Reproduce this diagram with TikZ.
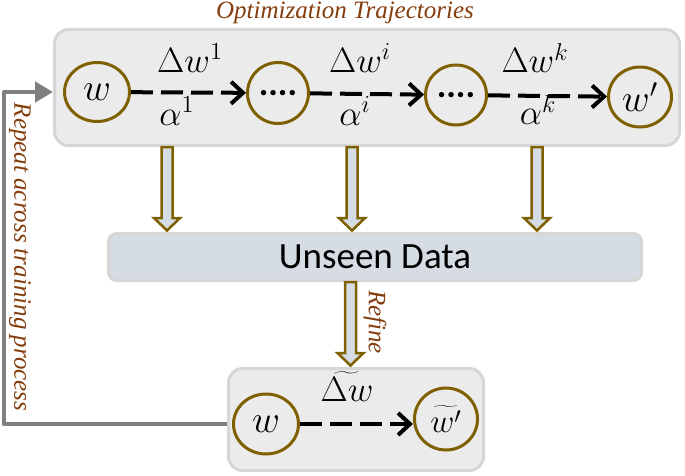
\documentclass[tikz,border=0pt]{standalone}
\usepackage{fontspec}
\setmainfont{Liberation Serif}
\newfontfamily\calibri{Carlito}
\usetikzlibrary{arrows.meta,calc,shapes.geometric}
\definecolor{gold}{HTML}{7F6000}
\definecolor{rust}{HTML}{843C0C}
\definecolor{panel}{HTML}{EBEBEB}
\definecolor{panelline}{HTML}{D6D6D6}
\definecolor{bluegray}{HTML}{D6DCE4}
\definecolor{loopgray}{HTML}{7F7F7F}
% math set large (the math fonts stop at \huge, so scale them)
\newcommand\circtext[1]{\scalebox{1.85}{\huge$#1$}}
\newcommand\steptext[1]{\scalebox{1.7}{\huge$#1$}}
% hollow down arrow: #1 top of shaft, #2 point the tip rests on
\newcommand\hollowdown[2]{%
	\draw[hollow] let \p1=#1, \p2=#2 in
	(\x1-5.5pt,\y1) -- (\x1+5.5pt,\y1) -- (\x1+5.5pt,\y2+14pt) -- (\x1+13pt,\y2+14pt)
	-- (\x1,\y2+1.5pt) -- (\x1-13pt,\y2+14pt) -- (\x1-5.5pt,\y2+14pt) -- cycle;}
\begin{document}
\begin{tikzpicture}[x=1pt,y=1pt,line join=round,
	panelbox/.style={draw=panelline,fill=panel,line width=3pt,rounded corners=14pt},
	state/.style={ellipse,draw=gold,fill=panel,line width=3pt,inner sep=0pt},
	move/.style={line width=4pt,dash pattern=on 22pt off 8pt,-{Straight Barb[length=12pt,width=22pt]}},
	hollow/.style={draw=gold,fill=bluegray,line width=2.5pt,line join=miter},
	note/.style={text=rust,font=\itshape\fontsize{25}{25}\selectfont,inner sep=0pt},
	lbl/.style={inner sep=0pt},
	loop/.style={draw=loopgray,line width=4.5pt,-{Triangle[length=18pt,width=20pt]}}]
	\useasboundingbox (0,0) rectangle (685,475);
	% optimization trajectories
	\node[panelbox,minimum width=625pt,minimum height=116pt] (top) at (367,387.5) {};
	\node[note] (title) at (345,462) {Optimization Trajectories};
	\node[state,minimum width=65pt,minimum height=59pt] (w0) at (97,383) {\circtext{w}};
	\node[state,minimum width=61pt,minimum height=61pt] (s1) at (278,382) {\calibri\bfseries\fontsize{36}{36}\selectfont ....};
	\node[state,minimum width=61pt,minimum height=60pt] (s2) at (456,380) {\calibri\bfseries\fontsize{36}{36}\selectfont ....};
	\node[state,minimum width=63pt,minimum height=60pt] (w1) at (640,378) {\circtext{w'}};
	\draw[move] (w0) -- (s1);
	\draw[move] (s1) -- (s2);
	\draw[move] (s2) -- (w1);
	\node[lbl] (d1) at (190,417) {\steptext{\Delta w^1}};
	\node[lbl] (a1) at (177,364) {\steptext{\alpha^1}};
	\node[lbl] (di) at (360,417) {\steptext{\Delta w^i}};
	\node[lbl] (ai) at (355,364) {\steptext{\alpha^i}};
	\node[lbl] (dk) at (535,417) {\steptext{\Delta w^k}};
	\node[lbl] (ak) at (538,365) {\steptext{\alpha^k}};
	% unseen data
	\node[draw=panelline,fill=bluegray,line width=3pt,rounded corners=8pt,minimum width=533pt,minimum height=47pt,
		font=\calibri\fontsize{37}{37}\selectfont] (data) at (375,218) {Unseen Data};
	\hollowdown{(167,0 |- top.south)}{(167,0 |- data.north)}
	\hollowdown{(352,0 |- top.south)}{(352,0 |- data.north)}
	\hollowdown{(537,0 |- top.south)}{(537,0 |- data.north)}
	% refined step
	\node[panelbox,minimum width=255pt,minimum height=102pt] (bot) at (356,55.5) {};
	\hollowdown{(350.5,0 |- data.south)}{(350.5,0 |- bot.north)}
	\node[note,rotate=-90] (refine) at (375,153) {Refine};
	\node[state,minimum width=65pt,minimum height=60pt] (v0) at (266,51) {\circtext{w}};
	\node[state,minimum width=63pt,minimum height=62pt] (v1) at (446,56) {\scalebox{1.6}{\huge$\widetilde{w'}$}};
	\draw[move] (v0.east) -- (v0.east -| v1.west);
	\node[lbl] (dt) at (347,88) {\steptext{\widetilde{\Delta w}}};
	% loop back
	\coordinate (back) at (4,0);
	\draw[loop] (bot.west |- v0.east) -| (back |- w0.west) -- (top.west |- w0.west);
	\node[note,rotate=-90] (repeat) at (20,218) {Repeat across training process};
\end{tikzpicture}
\end{document}
